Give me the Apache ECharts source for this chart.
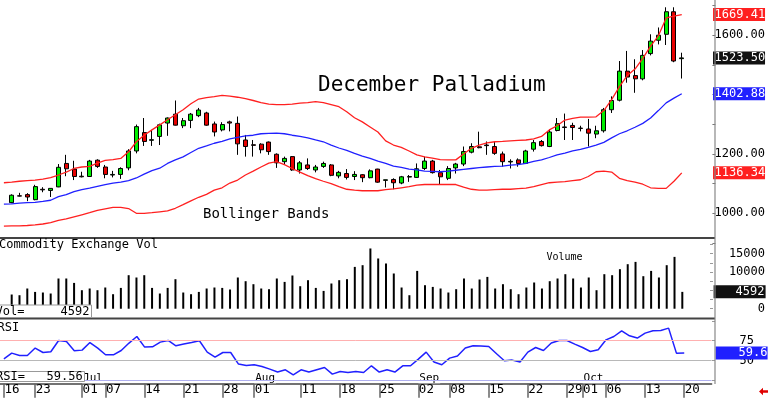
<!DOCTYPE html>
<html><head><meta charset="utf-8">
<script src="https://cdn.jsdelivr.net/npm/echarts@6/dist/echarts.min.js"></script>
<style>html,body{margin:0;padding:0;background:#fff;}#c{width:768px;height:399px;}</style>
</head><body><div id="c"></div>
<script>
const dates = ['06-16','06-17','06-18','06-20','06-23','06-24','06-25','06-26','06-27','06-30',
'07-01','07-02','07-03','07-07','07-08','07-09','07-10','07-11','07-14','07-15','07-16','07-17','07-18','07-21','07-22','07-23','07-24','07-25','07-28','07-29','07-30','07-31',
'08-01','08-04','08-05','08-06','08-07','08-08','08-11','08-12','08-13','08-14','08-15','08-18','08-19','08-20','08-21','08-22','08-25','08-26','08-27','08-28','08-29',
'09-02','09-03','09-04','09-05','09-08','09-09','09-10','09-11','09-12','09-15','09-16','09-17','09-18','09-19','09-22','09-23','09-24','09-25','09-26','09-29','09-30',
'10-01','10-02','10-03','10-06','10-07','10-08','10-09','10-10','10-13','10-14','10-15','10-16','10-17','10-20'];
const extraDates = ['10-21','10-22','10-23'];
const tickDates = ['06-16','06-23','07-01','07-07','07-14','07-21','07-28','08-01','08-11','08-18','08-25','09-02','09-08','09-15','09-22','09-29','10-01','10-06','10-13','10-20'];
const monthStarts = {'07-01':'Jul','08-01':'Aug','09-02':'Sep','10-01':'Oct'};

const open = [null,
1036,1059,1063,1046,1081,1077,1089,1168,1149,1125,
1124,1179,1156,1129,1131,1153,1210,1272,1246,1259,
1304,1334,1295,1313,1329,1338,1301,1281,1308,1303,
1247,1231,1233,1240,1199,1174,1191,1146,1163,1146,
1158,1163,1126,1134,1124,1130,1120,1149,1111,1114,
1102,1122,1121,1151,1176,1137,1118,1153,1166,1206,
1224,1230,1225,1200,1173,1180,1168,1216,1242,1225,
1279,1291,1296,1287,1284,1267,1278,1349,1381,1479,
1464,1453,1538,1583,1603,1679,1521];
const close = [null,
1061,1058,1055,1090,1079,1084,1155,1150,1124,1123,
1176,1158,1131,1131,1151,1210,1292,1242,1248,1298,
1321,1297,1312,1334,1348,1297,1274,1299,1304,1234,
1225,1229,1214,1208,1170,1185,1146,1170,1151,1156,
1168,1128,1138,1121,1131,1120,1143,1105,1113,1103,
1123,1124,1150,1176,1137,1123,1151,1166,1208,1225,
1221,1228,1202,1174,1175,1168,1210,1238,1228,1274,
1302,1289,1289,1286,1270,1278,1349,1380,1479,1459,
1453,1532,1580,1600,1679,1513,1523.5];
const low = [null,
1034,1057,1041,1044,1071,1055,1088,1125,1112,1121,
1123,1153,1118,1121,1116,1145,1202,1227,1227,1230,
1261,1296,1287,1287,1324,1295,1259,1276,1276,1197,
1191,1191,1202,1197,1153,1166,1143,1134,1146,1138,
1153,1125,1118,1114,1112,1105,1118,1103,1087,1081,
1098,1106,1119,1146,1134,1098,1112,1134,1159,1202,
1219,1197,1197,1157,1151,1157,1166,1208,1225,1223,
1276,1247,1247,1276,1225,1253,1272,1338,1377,1440,
1406,1448,1532,1569,1567,1509,1454];
const high = [null,
1064,1069,1068,1096,1088,1085,1166,1197,1177,1140,
1180,1182,1163,1143,1155,1216,1299,1321,1281,1302,
1323,1380,1321,1338,1355,1342,1309,1307,1312,1326,
1264,1247,1236,1242,1202,1191,1193,1176,1185,1163,
1174,1166,1143,1149,1142,1132,1148,1150,1113,1118,
1126,1129,1168,1191,1180,1146,1159,1170,1225,1236,
1275,1242,1242,1208,1182,1185,1214,1247,1247,1284,
1321,1336,1305,1295,1318,1295,1355,1394,1513,1547,
1519,1550,1603,1626,1694,1694,1541];
const upperBand = [1103,
1105,1108,1110,1112,1115,1120,1129,1139,1151,1156,
1158,1169,1178,1181,1185,1207,1241,1263,1281,1298,
1315,1332,1349,1369,1385,1390,1393,1397,1395,1391,
1386,1380,1373,1368,1366,1366,1368,1371,1373,1376,
1373,1366,1359,1342,1322,1308,1291,1274,1244,1230,
1222,1210,1197,1190,1186,1181,1180,1180,1200,1219,
1230,1237,1241,1242,1244,1246,1247,1251,1259,1281,
1295,1314,1320,1324,1324,1325,1346,1383,1427,1464,
1486,1522,1563,1598,1658,1664,1669.41];
const midBand = [1031,
1032,1034,1036,1037,1040,1044,1056,1063,1073,1080,
1085,1091,1097,1102,1105,1110,1119,1132,1144,1152,
1168,1180,1190,1205,1219,1227,1236,1242,1251,1256,
1261,1263,1268,1269,1270,1268,1263,1259,1254,1247,
1241,1230,1220,1212,1202,1193,1185,1176,1168,1159,
1155,1149,1146,1142,1141,1140,1142,1145,1148,1151,
1154,1156,1158,1159,1162,1164,1168,1175,1180,1188,
1197,1203,1210,1215,1222,1230,1239,1254,1268,1278,
1290,1303,1321,1346,1372,1388,1402.88];
const lowerBand = [957,
958,958,959,961,964,969,976,981,988,995,
1002,1010,1015,1020,1020,1016,1000,1000,1002,1005,
1008,1017,1029,1042,1054,1064,1078,1086,1102,1112,
1129,1142,1156,1169,1174,1164,1151,1139,1127,1117,
1108,1100,1090,1081,1078,1076,1076,1076,1080,1082,
1086,1090,1095,1097,1097,1097,1097,1097,1088,1081,
1078,1078,1080,1081,1081,1083,1085,1090,1097,1103,
1105,1107,1110,1113,1124,1140,1142,1139,1118,1110,
1105,1098,1086,1084,1084,1108,1136.34];
const volume = [null,
3872,3681,5509,4581,4418,4145,8236,8236,7036,5045,
5509,5045,5781,3954,5672,9135,8508,9135,5672,4145,
5672,8045,4418,3954,4581,5509,5781,5672,5236,8508,
7499,6681,5509,5318,8236,7308,9054,6136,7772,5672,
4854,6872,7772,8045,11399,11862,16417,13690,12326,9599,
5781,3681,10308,6408,5945,5509,4418,5318,8236,5509,
7963,8672,5509,6681,5318,3954,5781,7145,5509,7499,
8236,9408,8236,5781,8508,5045,9408,9135,10772,12135,
12762,8863,10308,8508,11862,14126,4592];
const rsi = [52,
59.3,56.3,56.3,65.7,60.1,61,75.3,74,62.2,63.1,
72.7,65.7,57.2,57.2,62.6,72,80.3,66.9,67.3,73.2,
75.3,68.6,70.7,72.7,74.9,60.6,54.3,60.1,60.1,45.5,
43.7,44.6,42.4,39.1,35.4,38.3,31.9,38.3,35.4,38.3,
41.2,32.8,36.1,34.8,36.1,34.8,43.3,35.4,38.3,35.4,
43.3,43.3,51.8,60.6,48,44.6,53,55.6,65.7,68.6,
68.2,67.7,58.5,49.6,50.5,48,60.6,66.4,62.6,72,
75.3,75.3,70.7,66.4,61.4,63.5,76.1,80.3,87.5,81.2,
78.3,84.6,87.5,87.9,90.9,59.3,59.56];
const rsiLevels = [75, 50, 25];

const FONT = '"DejaVu Sans Mono", monospace';
const cats = dates.concat(extraDates);
const tickSet = new Set(tickDates);
const last = a => a[a.length - 1];
const pairs = a => a.map((v, i) => v == null ? null : [i, v]).filter(Boolean);
const candleData = [];
dates.forEach((d, i) => { if (open[i] != null) candleData.push([i, open[i], close[i], low[i], high[i]]); });

function box(val, text, bg, padLeft) {
  return { yAxis: val, lineStyle: { color: 'rgba(0,0,0,0)', width: 0.01, type: 'solid' },
    label: { show: true, position: 'end', distance: 4, formatter: text, color: '#fff',
      backgroundColor: bg, padding: [1, 2, 0, padLeft], width: 50 - padLeft,
      fontFamily: FONT, fontSize: 12, lineHeight: 12 } };
}
const mlBase = { silent: true, symbol: 'none', animation: false, z: 20 };
const G = { left: -6.2, right: 56.4 };

const chart = echarts.init(document.getElementById('c'));
chart.setOption({
  animation: false,
  textStyle: { fontFamily: FONT },
  grid: [
    Object.assign({ top: 5.5, height: 237.5 }, G),
    Object.assign({ top: 244.5, height: 73.4 }, G),
    Object.assign({ top: 320.9, height: 59.4 }, G)
  ],
  xAxis: [
    { type: 'category', gridIndex: 0, data: cats, show: false },
    { type: 'category', gridIndex: 1, data: cats, show: false },
    { type: 'category', gridIndex: 2, data: cats, position: 'bottom', offset: 0,
      axisLine: { show: false }, axisTick: { show: false }, splitLine: { show: false },
      axisLabel: { interval: (i, v) => v in monthStarts, formatter: v => monthStarts[v],
        align: 'left', verticalAlign: 'middle', margin: -2, backgroundColor: '#fff',
        padding: [0, 1, 0, 1], lineHeight: 10, fontFamily: FONT, fontSize: 11, color: '#000' } },
    { type: 'category', gridIndex: 2, data: cats, position: 'bottom', offset: 3.5,
      axisLine: { lineStyle: { color: '#444', width: 1.5 } },
      axisTick: { show: true, alignWithLabel: true, interval: (i, v) => tickSet.has(v), length: 14,
        lineStyle: { color: '#666', width: 1.5 } },
      axisLabel: { interval: (i, v) => tickSet.has(v), formatter: v => v.slice(3),
        align: 'left', verticalAlign: 'middle', margin: 6, padding: [0, 0, 0, 0.5],
        fontFamily: FONT, fontSize: 12.5, color: '#000' } }
  ],
  yAxis: [
    { type: 'value', gridIndex: 0, position: 'right', min: 900, max: 1700, interval: 100, offset: 3.4,
      axisLine: { show: false }, splitLine: { show: false },
      axisTick: { show: true, length: 3, lineStyle: { color: '#777' } },
      axisLabel: { margin: 2, formatter: v => (v % 200 === 0 && v !== 1400) ? v.toFixed(2) : '',
        fontFamily: FONT, fontSize: 12, color: '#000' } },
    { type: 'value', gridIndex: 1, position: 'right', min: -2500, max: 17500, interval: 2500, offset: 3.4,
      axisLine: { show: false }, splitLine: { show: false },
      axisTick: { show: true, inside: true, length: 3, lineStyle: { color: '#999' } },
      axisLabel: { align: 'right', margin: 52, formatter: v => [0, 10000, 15000].includes(v) ? String(v) : '',
        fontFamily: FONT, fontSize: 12, color: '#000' } },
    { type: 'value', gridIndex: 2, position: 'right', min: 25, max: 100, interval: 25, offset: 3.4,
      axisLine: { show: false }, splitLine: { show: false },
      axisTick: { show: true, inside: true, length: 3, lineStyle: { color: '#999' } },
      axisLabel: { margin: 24.5, formatter: v => (v === 75 || v === 50) ? String(v) : '',
        fontFamily: FONT, fontSize: 12, color: '#000' } }
  ],
  series: [
    { type: 'candlestick', xAxisIndex: 0, yAxisIndex: 0, data: candleData,
      encode: { x: 0, y: [1, 2, 3, 4] }, barWidth: 4.5,
      itemStyle: { color: '#00ee00', color0: '#e60000', borderColor: '#000', borderColor0: '#000', borderWidth: 1 },
      markLine: Object.assign({ data: [box(last(close), last(close).toFixed(2), '#111', 1.5)] }, mlBase) },
    { type: 'line', xAxisIndex: 0, yAxisIndex: 0, data: pairs(upperBand), symbol: 'none',
      lineStyle: { color: '#ff2020', width: 1.3 },
      markLine: Object.assign({ data: [box(last(upperBand), last(upperBand).toFixed(2), '#ff2020', 1.5)] }, mlBase) },
    { type: 'line', xAxisIndex: 0, yAxisIndex: 0, data: pairs(midBand), symbol: 'none',
      lineStyle: { color: '#2020ff', width: 1.3 },
      markLine: Object.assign({ data: [box(last(midBand), last(midBand).toFixed(2), '#2020ff', 1.5)] }, mlBase) },
    { type: 'line', xAxisIndex: 0, yAxisIndex: 0, data: pairs(lowerBand), symbol: 'none',
      lineStyle: { color: '#ff2020', width: 1.3 },
      markLine: Object.assign({ data: [box(last(lowerBand), last(lowerBand).toFixed(2), '#ff2020', 1.5)] }, mlBase) },
    { type: 'bar', xAxisIndex: 1, yAxisIndex: 1, data: pairs(volume), barWidth: 2,
      itemStyle: { color: '#000' },
      markLine: Object.assign({ data: [box(last(volume), String(last(volume)), '#111', 22)] }, mlBase) },
    { type: 'line', xAxisIndex: 3, yAxisIndex: 2, data: pairs(rsi), symbol: 'none',
      lineStyle: { color: '#2020ff', width: 1.5 }, z: 3,
      markLine: Object.assign({ data: [
        { yAxis: rsiLevels[0], lineStyle: { color: '#ffb0b0', width: 1, type: 'solid' }, label: { show: false } },
        { yAxis: rsiLevels[1], lineStyle: { color: '#b8b8b8', width: 1, type: 'solid' }, label: { show: false } },
        { yAxis: rsiLevels[2], lineStyle: { color: '#b0b0f0', width: 1, type: 'solid' }, label: { show: false } },
        box(last(rsi), last(rsi).toFixed(1), '#2020ff', 23)
      ] }, mlBase) }
  ],
  graphic: [
    { type: 'line', z: 40, shape: { x1: 0, y1: 238, x2: 715, y2: 238 }, style: { stroke: '#444', lineWidth: 2 } },
    { type: 'line', z: 40, shape: { x1: 0, y1: 318.5, x2: 715, y2: 318.5 }, style: { stroke: '#444', lineWidth: 2 } },
    { type: 'line', z: 40, shape: { x1: 715, y1: 0, x2: 715, y2: 384 }, style: { stroke: '#888', lineWidth: 1.2 } },
    { type: 'text', z: 40, x: 318, y: 86, style: { text: 'December Palladium', fontFamily: FONT, fontSize: 21, fill: '#000', verticalAlign: 'middle' } },
    { type: 'text', z: 40, x: 203, y: 214, style: { text: 'Bollinger Bands', fontFamily: FONT, fontSize: 14, fill: '#000', verticalAlign: 'middle' } },
    { type: 'text', z: 40, x: -1, y: 245, style: { text: 'Commodity Exchange Vol', fontFamily: FONT, fontSize: 12, fill: '#000', verticalAlign: 'middle' } },
    { type: 'text', z: 40, x: 546.5, y: 257, style: { text: 'Volume', fontFamily: FONT, fontSize: 10, fill: '#000', verticalAlign: 'middle' } },
    { type: 'text', z: 40, x: -2.5, y: 328, style: { text: 'RSI', fontFamily: FONT, fontSize: 12, fill: '#000', verticalAlign: 'middle' } },
    { type: 'rect', z: 50, shape: { x: -1, y: 305, width: 92.5, height: 12.5 }, style: { fill: '#fff', stroke: '#999', lineWidth: 1 } },
    { type: 'text', z: 51, x: -4.5, y: 311.5, style: { text: 'Vol=', fontFamily: FONT, fontSize: 12, fill: '#000', verticalAlign: 'middle' } },
    { type: 'text', z: 51, x: 89.5, y: 311.5, style: { text: String(last(volume)), fontFamily: FONT, fontSize: 12, fill: '#000', align: 'right', verticalAlign: 'middle' } },
    { type: 'rect', z: 50, shape: { x: -1, y: 371.5, width: 85.5, height: 10 }, style: { fill: '#fff', stroke: '#999', lineWidth: 1 } },
    { type: 'text', z: 51, x: -4, y: 376.8, style: { text: 'RSI=', fontFamily: FONT, fontSize: 12, fill: '#000', verticalAlign: 'middle' } },
    { type: 'text', z: 51, x: 82.7, y: 376.8, style: { text: String(last(rsi)), fontFamily: FONT, fontSize: 12, fill: '#000', align: 'right', verticalAlign: 'middle' } },
    { type: 'polygon', z: 50, shape: { points: [[759, 391.5], [763, 387.8], [763, 390.2], [768, 390.2], [768, 392.8], [763, 392.8], [763, 395.2]] }, style: { fill: '#e00000' } }
  ]
});
</script>
</body></html>
